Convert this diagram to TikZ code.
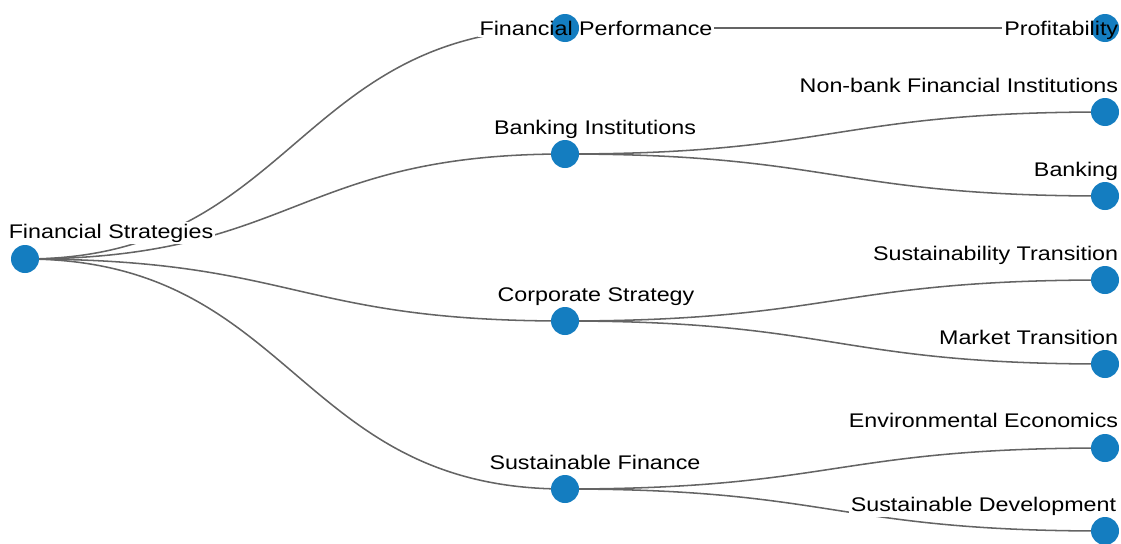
\documentclass[tikz,border=0pt]{standalone}
\usepackage{fontspec}
\setmainfont{Liberation Sans}[FakeStretch=1.18]
\usetikzlibrary{calc}
\usetikzlibrary{positioning}

\definecolor{nodeblue}{RGB}{20,125,192}
\definecolor{linkgray}{RGB}{100,100,100}
\pgfdeclarelayer{back}
\pgfsetlayers{back,main}

\begin{document}
\begin{tikzpicture}[x=0.75pt, y=-0.75pt,
    dot/.style={circle, fill=nodeblue, minimum size=21pt, inner sep=0pt},
    txt/.style={font=\fontsize{14.8}{17}\selectfont, inner sep=1.2pt},
    link/.style={draw=linkgray, line width=1.15pt}]
        \useasboundingbox (0,0) rectangle (1121,543);

        % tree nodes
        \node[dot] (fs) at (25,259) {};
        \node[dot] (fp) at (565,28) {};
        \node[dot] (bi) at (565,154) {};
        \node[dot] (cs) at (565,321) {};
        \node[dot] (sf) at (565,489) {};
        \node[dot] (pr) at (1105,28) {};
        \node[dot] (nb) at (1105,112) {};
        \node[dot] (bk) at (1105,196) {};
        \node[dot] (st) at (1105,280) {};
        \node[dot] (mt) at (1105,364) {};
        \node[dot] (ee) at (1105,448) {};
        \node[dot] (sd) at (1105,531) {};

        % labels
        \node[txt, anchor=base] (fsl) at (111,238) {Financial Strategies};
        \node[txt, anchor=base] (fpl) at (596,35) {Financial Performance};
        \node[txt, anchor=base] (bil) at (595,134) {Banking Institutions};
        \node[txt, anchor=base] (csl) at (596,301) {Corporate Strategy};
        \node[txt, anchor=base] (sfl) at (595,469) {Sustainable Finance};
        \node[txt, anchor=base east] (prl) at (1120,35) {Profitability};
        \node[txt, anchor=base east] (nbl) at (1120,92) {Non-bank Financial Institutions};
        \node[txt, anchor=base east] (bkl) at (1120,176) {Banking};
        \node[txt, anchor=base east] (stl) at (1120,260) {Sustainability Transition};
        \node[txt, anchor=base east] (mtl) at (1120,344) {Market Transition};
        \node[txt, anchor=base east] (eel) at (1120,427) {Environmental Economics};
        \node[txt, anchor=base east] (sdl) at (1118,511) {Sustainable Development};

        % links behind, masked by the labels
        \begin{pgfonlayer}{back}
            \foreach \a/\b in {fs/fp, fs/bi, fs/cs, fs/sf, fp/pr, bi/nb, bi/bk, cs/st, cs/mt, sf/ee, sf/sd}
                \draw[link] let \p1=(\a), \p2=(\b) in
                    (\a.center) .. controls ({(\x1+\x2)/2},\y1) and ({(\x1+\x2)/2},\y2) .. (\b.center);
            \foreach \l in {fsl, fpl, bil, csl, sfl, prl, nbl, bkl, stl, mtl, eel, sdl}
                \fill[white] (\l.south west) rectangle (\l.north east);
        \end{pgfonlayer}
\end{tikzpicture}
\end{document}
